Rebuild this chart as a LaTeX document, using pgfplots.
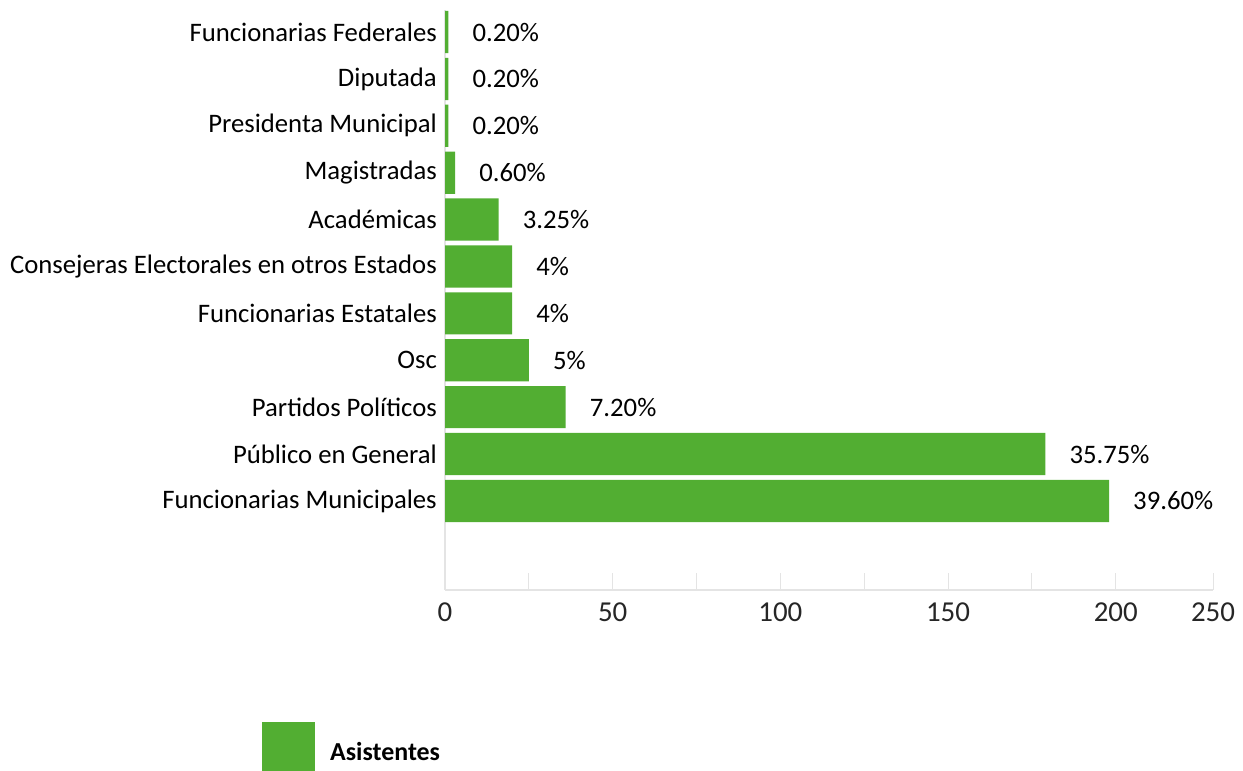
\documentclass[border=0pt]{standalone}
\usepackage{fontspec}
\setmainfont{Carlito}
\usepackage{pgfplots}
\pgfplotsset{compat=1.18}
\definecolor{barg}{RGB}{82,174,50}
\definecolor{axg}{RGB}{228,228,228}
\begin{document}
\begin{tikzpicture}
\begin{axis}[
  at={(445bp,181bp)}, anchor=south west,
  scale only axis, width=768bp, height=580bp,
  xbar, bar width=0.9, bar shift=0pt,
  xmin=0, xmax=229, ymin=-1.9, ymax=10.47,
  axis x line*=bottom, axis y line*=left,
  axis line style={-, draw=axg, line width=1.2bp},
  xtick={0,50,100,150,200,229},
  xticklabels={0,50,100,150,200,250},
  minor xtick={25,75,125,175},
  tick align=inside,
  major tick length=17bp, minor tick length=17bp,
  every tick/.style={draw=axg, line width=1bp},
  ytick style={draw=none},
  ytick={0,...,10},
  yticklabels={Funcionarias Municipales, Público en General, Partidos Políticos, Osc, Funcionarias Estatales, Consejeras Electorales en otros Estados, Académicas, Magistradas, Presidenta Municipal, Diputada, Funcionarias Federales},
  y tick label style={font=\fontsize{26.8}{32}\selectfont, inner sep=0pt, xshift=-8bp},
  x tick label style={font=\fontsize{29}{34}\selectfont, inner sep=0pt, yshift=-13bp, text=black!85},
  /pgf/number format/assume math mode=true,
  point meta=explicit symbolic,
  nodes near coords,
  nodes near coords align=horizontal,
  every node near coord/.append style={font=\fontsize{26.8}{32}\selectfont, anchor=west, inner sep=0pt, xshift=24bp, text=black},
  legend style={at={(axis description cs:-0.2383,-0.2698)}, anchor=west, draw=none, fill=none, inner sep=0pt,
    font=\bfseries\fontsize{26}{31}\selectfont,
    nodes={inner sep=0pt},
    /tikz/every odd column/.append style={column sep=15bp}},
  legend image code/.code={\fill[barg] (0bp,-18.5bp) rectangle (53bp,30.5bp);},
]
\addplot[fill=barg, draw=none] coordinates {
  (198,0) [39.60\%]
  (179,1) [35.75\%]
  (36,2) [7.20\%]
  (25,3) [5\%]
  (20,4) [4\%]
  (20,5) [4\%]
  (16,6) [3.25\%]
  (3,7) [0.60\%]
  (1,8) [0.20\%]
  (1,9) [0.20\%]
  (1,10) [0.20\%]
};
\addlegendentry{Asistentes}
\end{axis}
\pgfresetboundingbox
\path (0,0) rectangle (1243bp,771bp);
\end{tikzpicture}
\end{document}
